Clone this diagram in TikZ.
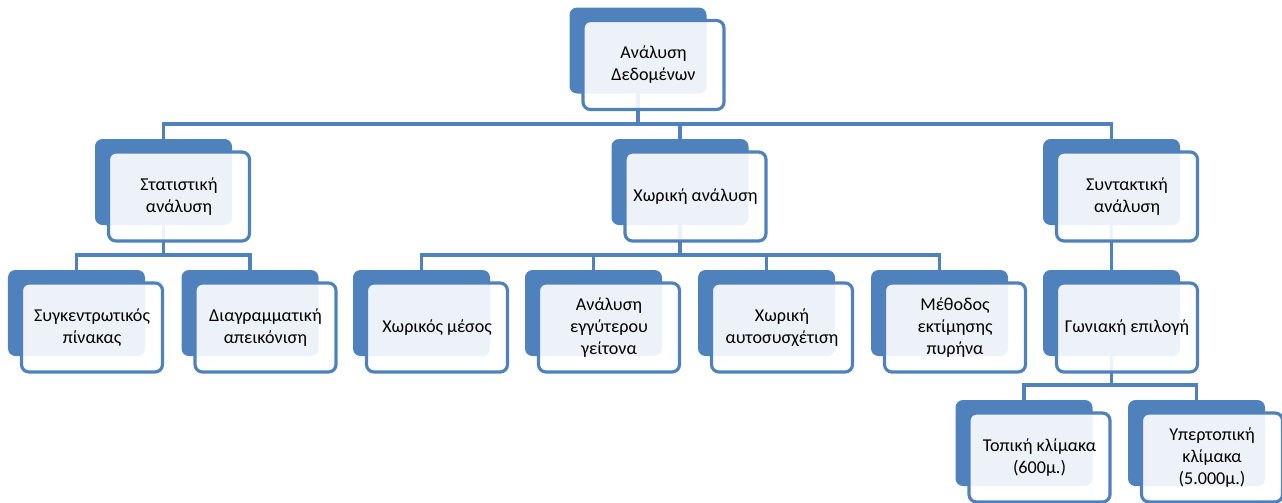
\documentclass[tikz,border=0pt]{standalone}
\usepackage{fontspec}
\setmainfont{Carlito}
\usetikzlibrary{backgrounds}
\definecolor{boxblue}{HTML}{4F81BD}

\begin{document}
\begin{tikzpicture}[
    backbox/.style={fill=boxblue, rounded corners=0.15cm, inner sep=0pt,
        minimum width=2.74cm, minimum height=1.72cm},
    frontbox/.style={draw=boxblue, line width=1.8pt, fill=white, fill opacity=0.9,
        text opacity=1, rounded corners=0.15cm, inner sep=0pt, align=center,
        minimum width=2.82cm, minimum height=1.78cm, xshift=0.31cm, yshift=-0.29cm,
        font=\fontsize{10.3}{12.5}\selectfont},
    link/.style={draw=boxblue, line width=1.8pt}
]

    \useasboundingbox (0,0) rectangle (25.64,-10.04);

    % Root
    \node[backbox] (rootb) at (12.76,-1.01) {};
    \node[frontbox] (root) at (12.76,-1.01) {Ανάλυση\\Δεδομένων};

    % First level
    \node[backbox] (statb) at (3.27,-3.64) {};
    \node[frontbox] (stat) at (3.27,-3.64) {Στατιστική\\ανάλυση};
    \node[backbox] (spatb) at (13.60,-3.64) {};
    \node[frontbox] (spat) at (13.60,-3.64) {Χωρική ανάλυση};
    \node[backbox] (syntb) at (22.23,-3.64) {};
    \node[frontbox] (synt) at (22.23,-3.64) {Συντακτική\\ανάλυση};

    % Second level
    \node[backbox] (sumb) at (1.53,-6.26) {};
    \node[frontbox] (sum) at (1.53,-6.26) {Συγκεντρωτικός\\πίνακας};
    \node[backbox] (diagb) at (5.00,-6.26) {};
    \node[frontbox] (diag) at (5.00,-6.26) {Διαγραμματική\\απεικόνιση};
    \node[backbox] (meanb) at (8.43,-6.26) {};
    \node[frontbox] (mean) at (8.43,-6.26) {Χωρικός μέσος};
    \node[backbox] (nnb) at (11.87,-6.26) {};
    \node[frontbox] (nn) at (11.87,-6.26) {Ανάλυση\\εγγύτερου\\γείτονα};
    \node[backbox] (autob) at (15.33,-6.26) {};
    \node[frontbox] (auto) at (15.33,-6.26) {Χωρική\\αυτοσυσχέτιση};
    \node[backbox] (kdeb) at (18.79,-6.26) {};
    \node[frontbox] (kde) at (18.79,-6.26) {Μέθοδος\\εκτίμησης\\πυρήνα};
    \node[backbox] (angleb) at (22.23,-6.26) {};
    \node[frontbox] (angle) at (22.23,-6.26) {Γωνιακή επιλογή};

    % Third level
    \node[backbox] (localb) at (20.48,-8.86) {};
    \node[frontbox] (local) at (20.48,-8.86) {Τοπική κλίμακα\\(600μ.)};
    \node[backbox] (regionb) at (23.93,-8.86) {};
    \node[frontbox] (region) at (23.93,-8.86) {Υπερτοπική\\κλίμακα\\(5.000μ.)};

    % Bus heights
    \coordinate (bus0) at (0,-2.48);
    \coordinate (bus1) at (0,-5.10);
    \coordinate (bus2) at (0,-7.70);

    % Connectors behind the boxes
    \begin{scope}[on background layer]
    \draw[link] (rootb) -- (rootb |- bus0) -| (statb);
    \draw[link] (rootb) -- (rootb |- bus0) -| (spatb);
    \draw[link] (rootb) -- (rootb |- bus0) -| (syntb);

    \draw[link] (statb) -- (statb |- bus1) -| (sumb);
    \draw[link] (statb) -- (statb |- bus1) -| (diagb);

    \draw[link] (spatb) -- (spatb |- bus1) -| (meanb);
    \draw[link] (spatb) -- (spatb |- bus1) -| (nnb);
    \draw[link] (spatb) -- (spatb |- bus1) -| (autob);
    \draw[link] (spatb) -- (spatb |- bus1) -| (kdeb);

    \draw[link] (syntb) -- (angleb);

    \draw[link] (angleb) -- (angleb |- bus2) -| (localb);
    \draw[link] (angleb) -- (angleb |- bus2) -| (regionb);
    \end{scope}

\end{tikzpicture}
\end{document}
